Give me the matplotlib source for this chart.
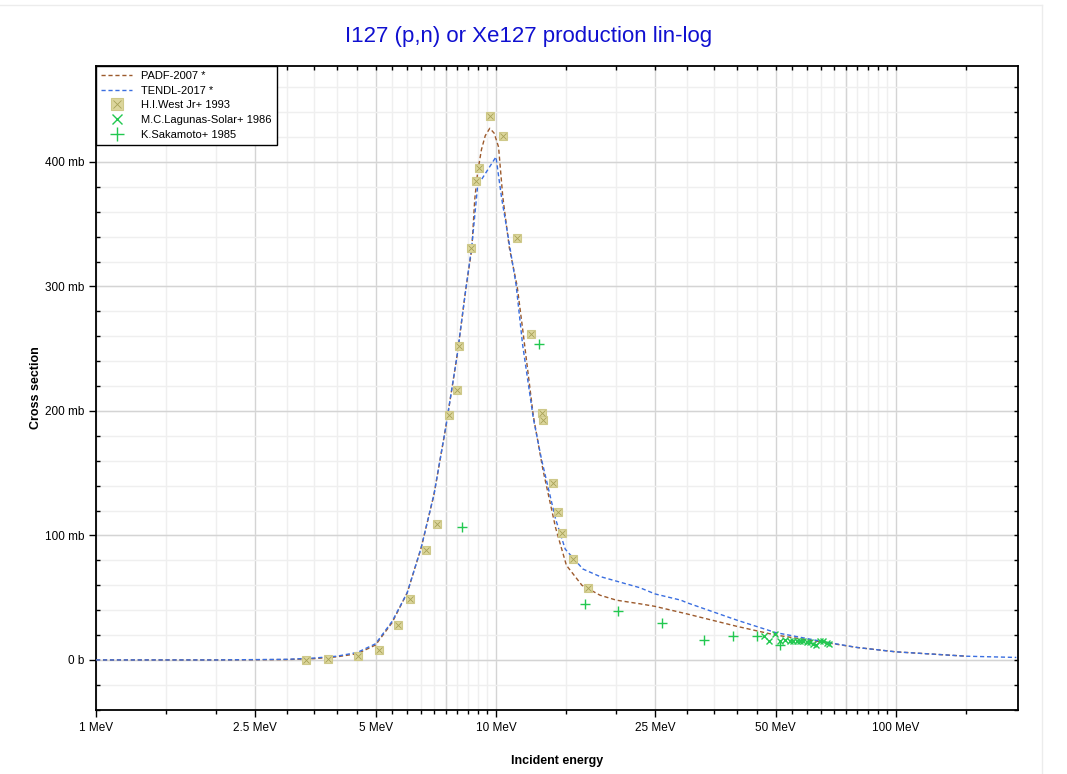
import matplotlib.pyplot as plt
from matplotlib.lines import Line2D
from matplotlib.ticker import FixedLocator, FixedFormatter, NullFormatter
import numpy as np

plt.rcParams['font.family'] = ['Liberation Sans', 'DejaVu Sans']

# evaluated curves (MeV, mb)
padf_e = [1, 2, 3, 3.5, 4, 4.5, 5, 5.5, 6, 6.5, 7, 7.5, 8, 8.4, 8.7, 8.85, 9.0, 9.2, 9.4,
          9.65, 9.9, 10.15, 10.4, 10.8, 11.3, 11.7, 12.4, 13.1, 14.1, 15, 16.4, 18.2,
          20, 23, 25, 30, 40, 50, 65, 80, 100, 150]
padf_v = [0, 0, 0.3, 1, 2.5, 5, 12, 30, 54, 90, 133, 188, 245, 297, 330, 370, 392, 410, 421,
          427, 423, 412, 372, 331, 300, 262, 196, 153, 106, 76, 60, 52,
          48, 45, 43, 37, 27, 20, 14.5, 10, 6.5, 3]

tendl_e = [1, 2, 3, 3.5, 4, 4.5, 5, 5.5, 6, 6.5, 7, 7.5, 8, 8.4, 8.7, 9.0, 10.0, 10.33,
           10.84, 11.23, 11.66, 12.4, 13.0, 14.1, 14.9, 16.5, 18.2, 22.9, 25, 29, 30, 40,
           50, 65, 80, 100, 150, 200]
tendl_v = [0, 0, 0.5, 1.5, 3, 6, 13, 31, 54, 90, 133, 188, 245, 297, 332, 381, 404, 371,
           331, 301, 253, 194, 161, 113, 89, 73, 67, 58, 53, 48, 46, 32,
           22, 15, 10, 6.5, 3, 2]

# experimental data
west_e = [3.35, 3.8, 4.52, 5.10, 5.69, 6.1, 6.68, 7.12, 7.63, 7.99, 8.08, 8.66, 8.91, 9.07,
          9.66, 10.41, 11.28, 12.23, 13.03, 13.1, 13.88, 14.29, 14.62, 15.58, 16.98]
west_v = [0, 1, 3, 8, 28, 49, 88, 109, 197, 217, 252, 331, 385, 395,
          437, 421, 339, 262, 198, 193, 142, 119, 102, 81, 58]

lagunas_e = [46.8, 48.1, 49.8, 51.3, 52.8, 54.3, 55.3, 56.6, 57.5, 58.6, 59.9, 61.0, 62.0,
             63.1, 64.6, 65.7, 67.2, 68.0]
lagunas_v = [19, 15, 21, 15, 16, 15, 15, 15, 15, 15, 14.5, 14.5, 13, 12, 15, 15, 14, 13]

saka_e = [8.22, 12.81, 16.69, 20.18, 26.0, 33.1, 39.1, 44.9, 51.3]
saka_v = [107, 254, 45, 39, 30, 16, 19, 19, 12]

xticks = [1, 2.5, 5, 10, 25, 50, 100]
xlabels = ['1 MeV', '2.5 MeV', '5 MeV', '10 MeV', '25 MeV', '50 MeV', '100 MeV']
xmajor_grid = [1, 2.5, 5, 7.5, 10, 25, 50, 75, 100]
xminor = [1.5, 2, 3, 3.5, 4, 4.5, 5.5, 6, 6.5, 7, 7.5, 8, 8.5, 9, 9.5,
          15, 20, 30, 35, 40, 45, 55, 60, 65, 70, 75, 80, 85, 90, 95, 150]
yticks = [0, 100, 200, 300, 400]
ylabels = ['0 b', '100 mb', '200 mb', '300 mb', '400 mb']

fig = plt.figure(figsize=(10.67, 7.74), dpi=100)
ax = fig.add_axes([0.09, 0.0827, 0.8641, 0.8320])

xmin, xmax = 1, 202
ymin, ymax = -40.2, 477

ax.set_xscale('log')
ax.set_xlim(xmin, xmax)
ax.set_ylim(ymin, ymax)

# grid
for x in xminor:
    ax.axvline(x, color='#efefef', lw=1, zorder=0)
for x in xmajor_grid:
    ax.axvline(x, color='#d4d4d4', lw=1, zorder=0)
for y in np.arange(-40, 481, 20):
    ax.axhline(y, color='#efefef', lw=1, zorder=0)
for y in yticks:
    ax.axhline(y, color='#d4d4d4', lw=1, zorder=0)

ax.plot(padf_e, padf_v, color='#9c5a2c', lw=1, ls=(0, (3, 2)), zorder=3)
ax.plot(tendl_e, tendl_v, color='#3a6ee0', lw=1, ls=(0, (3, 2)), zorder=3)

w1, = ax.plot(west_e, west_v, ls='none', marker='s', ms=6, mfc='#dcd69c', mec='#cfc98a', mew=0.8, zorder=4)
w2, = ax.plot(west_e, west_v, ls='none', marker='x', ms=4, mec='#a8a258', mew=0.6, zorder=5)
lg, = ax.plot(lagunas_e, lagunas_v, ls='none', marker='x', ms=5, mec='#22c850', mew=1.0, zorder=5)
sk, = ax.plot(saka_e, saka_v, ls='none', marker='+', ms=7, mec='#22c850', mew=1.0, zorder=5)

ax.xaxis.set_major_locator(FixedLocator(xticks))
ax.xaxis.set_major_formatter(FixedFormatter(xlabels))
ax.xaxis.set_minor_locator(FixedLocator(xminor))
ax.xaxis.set_minor_formatter(NullFormatter())
ax.yaxis.set_major_locator(FixedLocator(yticks))
ax.yaxis.set_major_formatter(FixedFormatter(ylabels))
ax.yaxis.set_minor_locator(FixedLocator(list(np.arange(-40, 481, 20))))
ax.tick_params(axis='both', which='major', direction='out', length=5, labelsize=8.5, width=1)
ax.tick_params(axis='both', which='minor', direction='out', length=3, width=1)
ax.tick_params(axis='y', which='minor', direction='in', length=3)

for s in ax.spines.values():
    s.set_linewidth(1.3)

# inward ticks on top and right
axt = ax.twiny()
axt.set_xscale('log')
axt.set_xlim(xmin, xmax)
axt.xaxis.set_major_locator(FixedLocator(xticks + [75]))
axt.xaxis.set_minor_locator(FixedLocator(xminor))
axt.xaxis.set_major_formatter(NullFormatter())
axt.xaxis.set_minor_formatter(NullFormatter())
axt.tick_params(axis='x', which='both', direction='in', length=3, width=1)
axr = ax.twinx()
axr.set_ylim(ymin, ymax)
axr.yaxis.set_major_locator(FixedLocator(list(np.arange(-40, 481, 20))))
axr.yaxis.set_major_formatter(NullFormatter())
axr.tick_params(axis='y', which='both', direction='in', length=3, width=1)
for a in (axt, axr):
    for s in a.spines.values():
        s.set_visible(False)

ax.set_xlabel('Incident energy', fontsize=9, fontweight='bold', labelpad=15)
ax.set_ylabel('Cross section', fontsize=9, fontweight='bold', labelpad=0)
ax.yaxis.set_label_coords(-0.059, 0.5)
fig.text(0.495, 0.953, 'I127 (p,n) or Xe127 production lin-log', color='#1010d0',
         fontsize=16, ha='center', va='center')

handles = [Line2D([], [], color='#9c5a2c', lw=1, ls=(0, (3, 2))),
           Line2D([], [], color='#3a6ee0', lw=1, ls=(0, (3, 2))),
           (w1, w2), lg, sk]
labels = ['PADF-2007 *', 'TENDL-2017 *', 'H.I.West Jr+ 1993',
          'M.C.Lagunas-Solar+ 1986', 'K.Sakamoto+ 1985']
leg = axr.legend(handles, labels, loc='upper left', bbox_to_anchor=(0, 1), borderaxespad=0,
                 fontsize=8, fancybox=False, framealpha=1, edgecolor='black',
                 handlelength=2.8, labelspacing=0.42, borderpad=0.45, markerscale=1.5)
leg.get_frame().set_linewidth(1)

# light frame around the plot widget
fig.add_artist(Line2D([0, 0.977], [0.993, 0.993], color='#ececec', lw=1))
fig.add_artist(Line2D([0.977, 0.977], [0, 0.993], color='#ececec', lw=1))

fig.savefig('out.png', dpi=100)
